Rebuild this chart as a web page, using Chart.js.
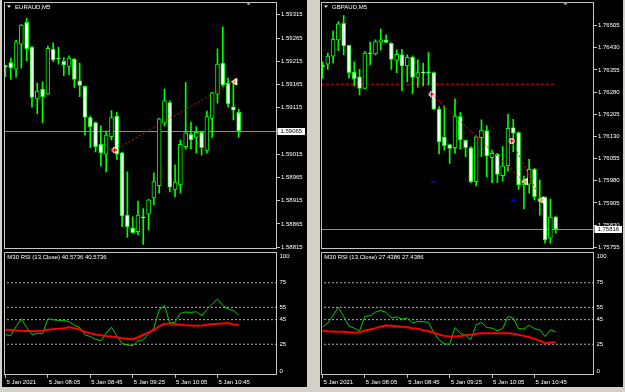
<!DOCTYPE html>
<html><head><meta charset="utf-8">
<script src="https://cdn.jsdelivr.net/npm/chart.js@4.4.1/dist/chart.umd.min.js"></script>
<style>
html,body{margin:0;padding:0;background:#d4d0c8;width:625px;height:392px;overflow:hidden;}
.win{position:absolute;background:#000;}
canvas{position:absolute;}
</style></head><body>
<div class="win" style="left:2px;top:0;width:305px;height:387px"></div>
<div class="win" style="left:320px;top:0;width:303px;height:387px"></div>
<canvas id="eurMain" width="310" height="250" style="left:0;top:0;width:310px;height:250px"></canvas>
<canvas id="eurRsi" width="310" height="142" style="left:0;top:250px;width:310px;height:142px"></canvas>
<canvas id="gbpMain" width="307" height="250" style="left:318px;top:0;width:307px;height:250px"></canvas>
<canvas id="gbpRsi" width="307" height="142" style="left:318px;top:250px;width:307px;height:142px"></canvas>
<script>
// ---------- data ----------
const timeLabels = ['5 Jan 2021','5 Jan 08:05','5 Jan 08:45','5 Jan 09:25','5 Jan 10:05','5 Jan 10:45'];
const timeTickIndex = [0,8,16,24,32,40];

const eurSymbol = 'EURAUD,M5';
const eurOpen = [1.59206,1.59212,1.59198,1.59252,1.59299,1.59245,1.59134,1.59155,1.59144,1.59241,1.59221,1.59215,1.59204,1.59220,1.59173,1.59161,1.59094,1.59083,1.59036,1.59015,1.59053,1.59097,1.59018,1.58884,1.58856,1.58848,1.58880,1.58886,1.58921,1.58947,1.59082,1.59126,1.58939,1.58949,1.59031,1.59058,1.59051,1.59062,1.59023,1.59092,1.59144,1.59211,1.59168,1.59117,1.59105];
const eurHigh = [1.59207,1.59222,1.59260,1.59294,1.59308,1.59247,1.59168,1.59171,1.59248,1.59255,1.59245,1.59223,1.59227,1.59221,1.59211,1.59162,1.59097,1.59084,1.59076,1.59065,1.59109,1.59105,1.59019,1.58977,1.58880,1.58914,1.58898,1.58918,1.58975,1.59092,1.59155,1.59130,1.58992,1.59046,1.59169,1.59084,1.59074,1.59065,1.59108,1.59148,1.59242,1.59289,1.59179,1.59168,1.59112];
const eurLow = [1.59182,1.59176,1.59181,1.59200,1.59216,1.59116,1.59102,1.59083,1.59143,1.59214,1.59209,1.59184,1.59186,1.59159,1.59139,1.59056,1.59029,1.59020,1.58990,1.58977,1.59046,1.59004,1.58859,1.58836,1.58845,1.58841,1.58821,1.58852,1.58906,1.58931,1.59076,1.58934,1.58923,1.58931,1.59026,1.59026,1.59017,1.59013,1.59018,1.59051,1.59125,1.59161,1.59116,1.59089,1.59051];
const eurClose = [1.59203,1.59201,1.59257,1.59293,1.59242,1.59137,1.59151,1.59139,1.59243,1.59218,1.59220,1.59207,1.59222,1.59176,1.59163,1.59094,1.59074,1.59031,1.59018,1.59056,1.59094,1.59015,1.58882,1.58859,1.58846,1.58884,1.58878,1.58917,1.58956,1.59091,1.59130,1.58944,1.58955,1.59036,1.59061,1.59046,1.59062,1.59029,1.59096,1.59147,1.59209,1.59164,1.59123,1.59110,1.59065];
const eurTicks = [1.59315,1.59265,1.59215,1.59165,1.59115,1.59065,1.59015,1.58965,1.58915,1.58865,1.58815];
const eurRange = [1.58812,1.59342];
const eurTradeX = [20.6,43.1];
const eurTradeY = [1.59024,1.59171];
const eurRsiText = 'M30 RSI (13,Close) 40.5736 40.5736';
const eurRsi = [32.7,32.1,39.5,45.7,38.6,32.7,34.0,33.5,45.7,44.9,44.4,44.4,43.3,40.5,38.6,32.7,31.3,29.1,27.8,34.0,38.9,31.8,25.6,24.5,23.7,28.0,28.6,33.5,38.1,53.1,56.6,42.2,43.0,50.1,51.2,50.9,51.4,48.4,53.3,57.7,61.8,56.6,53.6,52.5,48.7];
const eurRsiSignal = [36.7,36.5,36.2,35.9,35.8,35.6,35.6,35.9,36.7,37.3,37.6,38.1,38.9,38.1,37.0,35.1,34.0,32.9,32.4,31.8,31.3,30.7,29.9,29.4,29.1,30.7,32.7,34.6,36.7,39.5,41.6,41.6,41.4,40.8,40.5,40.3,40.0,40.3,40.8,41.4,41.6,41.9,42.2,41.1,40.8];

const gbpSymbol = 'GBPAUD,M5';
const gbpOpen = [1.76372,1.76375,1.76402,1.76457,1.76513,1.76438,1.76348,1.76332,1.76293,1.76413,1.76409,1.76449,1.76457,1.76445,1.76387,1.76406,1.76369,1.76398,1.76330,1.76346,1.76349,1.76346,1.76223,1.76128,1.76103,1.76092,1.76197,1.76117,1.76092,1.75977,1.76126,1.76150,1.76058,1.76070,1.75997,1.76031,1.76160,1.76143,1.75966,1.75969,1.76019,1.75909,1.75924,1.75786,1.75857];
const gbpHigh = [1.76383,1.76412,1.76487,1.76519,1.76539,1.76439,1.76383,1.76357,1.76417,1.76449,1.76457,1.76493,1.76474,1.76448,1.76423,1.76425,1.76406,1.76403,1.76389,1.76378,1.76414,1.76349,1.76231,1.76233,1.76104,1.76257,1.76211,1.76118,1.76096,1.76132,1.76186,1.76166,1.76084,1.76073,1.76096,1.76205,1.76188,1.76146,1.75996,1.76053,1.76022,1.75983,1.75926,1.75918,1.75861];
const gbpLow = [1.76327,1.76357,1.76378,1.76420,1.76406,1.76327,1.76301,1.76271,1.76292,1.76372,1.76406,1.76423,1.76447,1.76357,1.76346,1.76285,1.76315,1.76274,1.76297,1.76301,1.76304,1.76220,1.76071,1.76084,1.76039,1.76073,1.76087,1.76062,1.75974,1.75963,1.76062,1.75992,1.75974,1.75974,1.75979,1.76013,1.76079,1.75951,1.75885,1.75938,1.75915,1.75864,1.75769,1.75769,1.75803];
const gbpClose = [1.76365,1.76402,1.76459,1.76511,1.76436,1.76346,1.76326,1.76293,1.76412,1.76410,1.76451,1.76457,1.76448,1.76391,1.76408,1.76369,1.76398,1.76330,1.76346,1.76345,1.76344,1.76222,1.76112,1.76099,1.76090,1.76199,1.76118,1.76092,1.75977,1.76129,1.76152,1.76064,1.76073,1.76002,1.76031,1.76158,1.76141,1.75966,1.75983,1.76019,1.75926,1.75922,1.75780,1.75857,1.75816];
const gbpTicks = [1.76505,1.76430,1.76355,1.76280,1.76205,1.76130,1.76055,1.75980,1.75905,1.75830,1.75755];
const gbpRange = [1.75751,1.76584];
const gbpTradeAX = [20.6,38.1];
const gbpTradeAY = [1.76273,1.75977];
const gbpTradeBX = [35.7,41.2];
const gbpTradeBY = [1.76115,1.75915];
const gbpLevelX = [-0.3,43.9];
const gbpLevel = 1.76307;
const gbpMarkX = [[20.4,21.3],[35.5,36.5]];
const gbpMarkY = [1.75977,1.75914];
const gbpRsiText = 'M30 RSI (13,Close) 27.4386 27.4386';
const gbpRsi = [38.9,42.2,48.4,55.0,47.6,39.7,38.1,35.9,47.6,48.2,51.2,52.5,50.9,46.3,47.3,45.4,46.5,42.2,43.5,43.3,42.7,34.6,28.6,25.3,25.0,38.6,34.0,32.1,28.6,40.8,42.7,38.6,38.1,35.9,37.8,47.6,46.3,37.8,37.3,40.5,37.6,36.7,31.3,36.7,35.1];
const gbpRsiSignal = [35.9,35.6,35.4,35.2,35.1,34.8,34.6,34.8,36.2,37.0,38.1,39.5,40.3,40.0,39.7,39.2,38.9,38.1,37.6,36.5,35.6,34.3,32.9,31.8,31.3,31.6,31.8,32.4,32.7,33.5,34.0,34.0,34.0,34.0,34.0,34.0,33.5,32.7,31.8,30.7,29.4,28.0,25.9,26.4,26.7];

const rsiLevels = [75,55,45,25];
const rsiTicks = [100,75,55,45,25,0];

// ---------- style ----------
const FONT = '"Liberation Sans", Arial, sans-serif';
const FS = 6;
const TXT = '#ffffff';
const FRAME = '#c4c4c4';
const LIME = '#00ff00';
const XMIN = -0.22, XMAX = 51.23;
Chart.defaults.font.family = FONT;
Chart.defaults.font.size = FS;

function drawCross(ctx,x,y){
  ctx.save();
  ctx.strokeStyle='#ffffff'; ctx.lineWidth=3;
  ctx.beginPath(); ctx.moveTo(x-3,y); ctx.lineTo(x+3,y); ctx.moveTo(x,y-3); ctx.lineTo(x,y+3); ctx.stroke();
  ctx.strokeStyle='#ff0000'; ctx.lineWidth=1.3;
  ctx.beginPath(); ctx.moveTo(x-2.5,y); ctx.lineTo(x+2.5,y); ctx.moveTo(x,y-2.5); ctx.lineTo(x,y+2.5); ctx.stroke();
  ctx.restore();
}
function drawArrow(ctx,x,y){
  ctx.save();
  ctx.fillStyle='#ffffff';
  ctx.beginPath(); ctx.moveTo(x-3,y); ctx.lineTo(x+2,y-3.5); ctx.lineTo(x+2,y+3.5); ctx.closePath(); ctx.fill();
  ctx.fillRect(x+2,y-3.5,1.5,7);
  ctx.fillStyle='#f0a020';
  ctx.beginPath(); ctx.moveTo(x-1.8,y); ctx.lineTo(x+1.5,y-2.2); ctx.lineTo(x+1.5,y+2.2); ctx.closePath(); ctx.fill();
  ctx.restore();
}
function frame(ctx,a){
  ctx.save(); ctx.strokeStyle=FRAME; ctx.lineWidth=1;
  const l=Math.round(a.left)+0.5, t=Math.round(a.top)+0.5, r=Math.round(a.right)-0.5, b=Math.round(a.bottom)-0.5;
  ctx.strokeRect(l,t,r-l,b-t); ctx.restore();
}
function seg(xs,ys,color,width,dash,order){
  return {type:'line', data: xs.map((x,i)=>({x:x,y:ys[i]})), borderColor:color, borderWidth:width, borderDash:dash, pointRadius:0, fill:false, tension:0, order:order};
}

function mainChart(id, sym, o,h,l,c, ticks, range, extra, trades, axisW, padLeft){
  const idx = o.map((_,i)=>i);
  const datasets = [
    {type:'bar', data: idx.map(i=>({x:i,y:[l[i],h[i]]})), backgroundColor:LIME, barThickness:1, grouped:false, order:5},
    {type:'bar', data: idx.map(i=>({x:i,y:[o[i],c[i]]})), backgroundColor: idx.map(i=> c[i]<o[i] ? '#ffffff' : '#000000'),
      borderColor:LIME, borderWidth:1, borderSkipped:false, barThickness:4, minBarLength:1, grouped:false, order:4}
  ].concat(extra);
  const plugin = {
    id:'mt_'+id,
    beforeDatasetsDraw(chart){
      const {ctx, chartArea:a} = chart; const ys = chart.scales.y;
      const py = Math.round(ys.getPixelForValue(c[c.length-1]))+0.5;
      ctx.save(); ctx.strokeStyle='#8c8c8c'; ctx.lineWidth=1;
      ctx.beginPath(); ctx.moveTo(a.left,py); ctx.lineTo(a.right,py); ctx.stroke(); ctx.restore();
    },
    afterDatasetsDraw(chart){
      const ctx = chart.ctx, xs = chart.scales.x, ys = chart.scales.y;
      trades.forEach(t=>{
        drawCross(ctx, xs.getPixelForValue(t[0][0]), ys.getPixelForValue(t[1][0]));
        drawArrow(ctx, xs.getPixelForValue(t[0][1]), ys.getPixelForValue(t[1][1]));
      });
    },
    afterDraw(chart){
      const {ctx, chartArea:a} = chart; const ys = chart.scales.y;
      frame(ctx,a);
      ctx.save();
      // title
      ctx.fillStyle=TXT;
      ctx.beginPath(); ctx.moveTo(a.left+2.7,5.6); ctx.lineTo(a.left+6.7,5.6); ctx.lineTo(a.left+4.7,7.8); ctx.closePath(); ctx.fill();
      ctx.font = FS+'px '+FONT; ctx.textBaseline='middle'; ctx.textAlign='left';
      ctx.fillText(sym, a.left+10.8, 7.6);
      // chart shift marker
      const cx = a.right-28.5;
      ctx.fillStyle='#9a9a9a';
      ctx.beginPath(); ctx.moveTo(cx-2.5,2.6); ctx.lineTo(cx+2.5,2.6); ctx.lineTo(cx,5.6); ctx.closePath(); ctx.fill();
      // bid box
      const last = c[c.length-1];
      const py = ys.getPixelForValue(last);
      ctx.fillStyle='#ffffff';
      ctx.fillRect(Math.round(a.right)+0.5, Math.round(py)-3, 27.5, 7);
      ctx.fillStyle='#000000';
      ctx.fillText(last.toFixed(5), Math.round(a.right)+3.5, Math.round(py)+0.6);
      ctx.restore();
    }
  };
  return new Chart(document.getElementById(id), {
    type:'bar',
    data:{datasets},
    options:{
      responsive:false, animation:false, events:[],
      layout:{padding:{left:padLeft, right:0, top:2.3, bottom:1.5}},
      plugins:{legend:{display:false}, tooltip:{enabled:false}},
      scales:{
        x:{type:'linear', min:XMIN, max:XMAX, offset:false, display:false, grid:{offset:false}},
        y:{type:'linear', position:'right', min:range[0], max:range[1],
          afterBuildTicks:s=>{ s.ticks = ticks.map(v=>({value:v})); },
          afterFit:s=>{ s.width = axisW; s.paddingTop=0; s.paddingBottom=0; },
          ticks:{autoSkip:false, color:TXT, padding:1, font:{size:FS}, callback:v=>Number(v).toFixed(5)},
          grid:{drawOnChartArea:false, tickLength:3, tickColor:'#c0c0c0'},
          border:{display:false}
        }
      }
    },
    plugins:[plugin]
  });
}

function rsiChart(id, rsi, sig, text, axisW, padLeft){
  const idx = rsi.map((_,i)=>i);
  const datasets = rsiLevels.map(L=>({type:'line', data:[{x:XMIN-1,y:L},{x:XMAX+1,y:L}], borderColor:'#b0b0b0', borderWidth:1, borderDash:[2,2], pointRadius:0, order:3}));
  datasets.push({type:'line', data: idx.map(i=>({x:i,y:rsi[i]})), borderColor:'#00d000', borderWidth:1, pointRadius:0, tension:0, order:2});
  datasets.push({type:'line', data: idx.map(i=>({x:i,y:sig[i]})), borderColor:'#ff0000', borderWidth:2, pointRadius:0, tension:0, order:1});
  const plugin = {
    id:'rsi_'+id,
    afterDraw(chart){
      const {ctx, chartArea:a} = chart;
      frame(ctx,a);
      ctx.save();
      ctx.fillStyle=TXT; ctx.font=FS+'px '+FONT; ctx.textBaseline='middle'; ctx.textAlign='left';
      ctx.fillText(text, a.left+3, a.top+5.8);
      ctx.fillText(rsiTicks[0].toString(), a.right+2.5, a.top+4);
      ctx.fillText(rsiTicks[rsiTicks.length-1].toString(), a.right+2.5, a.bottom-4);
      ctx.restore();
    }
  };
  return new Chart(document.getElementById(id), {
    type:'line',
    data:{datasets},
    options:{
      responsive:false, animation:false, events:[],
      layout:{padding:{left:padLeft, right:0, top:2, bottom:0}},
      plugins:{legend:{display:false}, tooltip:{enabled:false}},
      scales:{
        x:{type:'linear', min:XMIN, max:XMAX, offset:false,
          afterBuildTicks:s=>{ s.ticks = timeTickIndex.map(v=>({value:v})); },
          afterFit:s=>{ s.height = 17; s.paddingLeft=0; s.paddingRight=0; },
          ticks:{autoSkip:false, maxRotation:0, minRotation:0, align:'start', color:TXT, padding:1, labelOffset:1, font:{size:FS}, callback:(v,i)=>timeLabels[i]},
          grid:{drawOnChartArea:false, tickLength:3, tickColor:'#c0c0c0', offset:false},
          border:{display:false}
        },
        y:{type:'linear', position:'right', min:0, max:100,
          afterBuildTicks:s=>{ s.ticks = rsiTicks.map(v=>({value:v})); },
          afterFit:s=>{ s.width = axisW; s.paddingTop=0; s.paddingBottom=0; },
          ticks:{autoSkip:false, color:TXT, padding:0.5, font:{size:FS}, callback:v=> (v===rsiTicks[0]||v===rsiTicks[rsiTicks.length-1]) ? '' : String(v)},
          grid:{drawOnChartArea:false, tickLength:2, tickColor:'rgba(0,0,0,0)'},
          border:{display:false}
        }
      }
    },
    plugins:[plugin]
  });
}

mainChart('eurMain', eurSymbol, eurOpen, eurHigh, eurLow, eurClose, eurTicks, eurRange,
  [seg(eurTradeX, eurTradeY, '#ff0000', 1, [2,2], 0)],
  [[eurTradeX, eurTradeY]], 33, 4.3);
rsiChart('eurRsi', eurRsi, eurRsiSignal, eurRsiText, 33, 4.3);

mainChart('gbpMain', gbpSymbol, gbpOpen, gbpHigh, gbpLow, gbpClose, gbpTicks, gbpRange,
  [seg(gbpLevelX, [gbpLevel,gbpLevel], '#ff0000', 1, [3,2], 6),
   seg(gbpTradeAX, gbpTradeAY, '#ff0000', 1, [2,2], 0),
   seg(gbpTradeBX, gbpTradeBY, '#ff0000', 1, [2,2], 0),
   seg(gbpMarkX[0], [gbpMarkY[0],gbpMarkY[0]], '#0000ff', 1.5, [], 1),
   seg(gbpMarkX[1], [gbpMarkY[1],gbpMarkY[1]], '#0000ff', 1.5, [], 1)],
  [[gbpTradeAX, gbpTradeAY],[gbpTradeBX, gbpTradeBY]], 31, 3.3);
rsiChart('gbpRsi', gbpRsi, gbpRsiSignal, gbpRsiText, 31, 3.3);
</script>
</body></html>
